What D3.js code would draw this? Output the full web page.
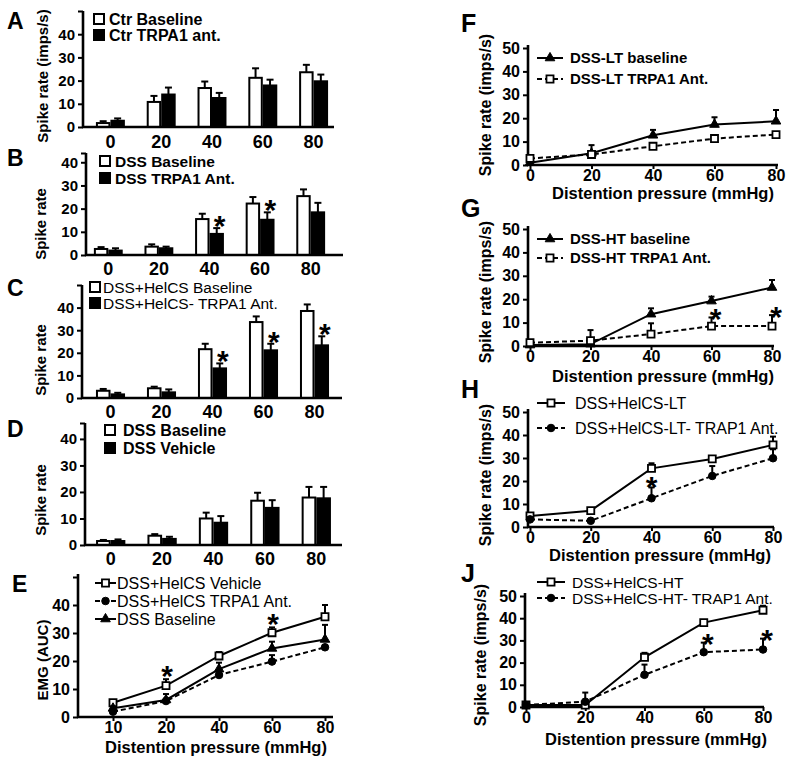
<!DOCTYPE html>
<html><head><meta charset="utf-8">
<script src="https://cdn.jsdelivr.net/npm/d3@7"></script>
<style>
body{margin:0;background:#fff}
svg{display:block}
text{font-family:"Liberation Sans",Arial,sans-serif;fill:#000}
</style>
</head><body>
<svg id="c" width="800" height="760"></svg>
<script>
// ---------------- DATA ----------------
const barCats = ["0", "20", "40", "60", "80"];

const aBaseline    = [1.7, 10.8, 16.8, 21.2, 23.6];
const aBaselineErr = [0.8, 2.6, 2.8, 4.1, 3.2];
const aAnt         = [2.7, 14.0, 12.5, 17.9, 19.7];
const aAntErr      = [1.0, 3.0, 2.2, 2.5, 2.9];

const bBaseline    = [2.6, 3.6, 15.5, 22.2, 25.4];
const bBaselineErr = [0.8, 1.0, 2.3, 2.8, 2.9];
const bAnt         = [1.9, 2.9, 9.1, 15.2, 18.4];
const bAntErr      = [1.0, 0.7, 2.5, 3.2, 4.1];
const bStars       = [false, false, true, true, false];

const cBaseline    = [3.2, 4.3, 21.6, 33.6, 38.5];
const cBaselineErr = [0.8, 0.7, 2.4, 2.5, 2.9];
const cAnt         = [1.6, 2.5, 13.1, 21.1, 23.3];
const cAntErr      = [0.7, 1.3, 2.2, 2.9, 4.0];
const cStars       = [false, false, true, true, true];

const dBaseline    = [1.5, 3.5, 10.0, 16.7, 17.9];
const dBaselineErr = [0.4, 0.6, 2.2, 3.0, 4.0];
const dVehicle     = [1.5, 2.3, 8.4, 14.0, 17.6];
const dVehicleErr  = [0.6, 0.8, 2.5, 2.9, 4.3];

const emgCats      = ["10", "20", "40", "60", "80"];
const eVehicle     = [5.1, 11.2, 21.8, 30.1, 35.8];
const eVehicleErr  = [0.8, 2.3, 1.4, 1.9, 4.2];
const eAnt         = [1.9, 5.7, 15.0, 19.8, 24.9];
const eAntErr      = [0.5, 0.8, 0.8, 2.3, 0.8];
const eBaseline    = [3.1, 6.1, 17.1, 24.5, 27.7];
const eBaselineErr = [0.6, 2.1, 2.3, 2.4, 5.2];
const eStars       = [false, true, false, true, false];

const pressures    = [0, 20, 40, 60, 80];
const yTicks50     = [0, 10, 20, 30, 40, 50];

const fBaseline    = [1.0, 5.0, 12.7, 17.3, 18.7];
const fBaselineErr = [0.5, 3.5, 2.3, 3.1, 4.8];
const fAnt         = [2.8, 4.5, 8.0, 11.3, 13.0];
const fAntErr      = [0, 0, 0, 0, 0];
const fStars       = [false, false, false, false, false];

const gBaseline    = [0.4, 0.8, 13.6, 19.2, 25.0];
const gBaselineErr = [0, 0, 2.5, 1.9, 3.2];
const gAnt         = [1.4, 2.3, 5.1, 8.5, 8.5];
const gAntErr      = [0, 4.5, 4.6, 3.7, 4.7];
const gStars       = [false, false, false, true, true];

const hLT          = [4.8, 7.1, 25.5, 29.6, 35.7];
const hLTErr       = [0.5, 0.8, 2.2, 0.8, 3.6];
const hAnt         = [3.3, 2.7, 12.5, 22.2, 29.9];
const hAntErr      = [0, 0, 4.7, 4.3, 3.9];
const hStars       = [false, false, true, false, false];

const jHT          = [0.9, 0.9, 22.4, 38.0, 43.6];
const jHTErr       = [0, 0, 2.0, 0.8, 2.0];
const jAnt         = [0.9, 2.4, 14.5, 24.7, 25.9];
const jAntErr      = [0, 4.1, 4.6, 4.3, 4.9];
const jStars       = [false, false, false, true, true];

// ---------------- DRAWING ----------------
const svg = d3.select("#c");
svg.append("rect").attr("width", 800).attr("height", 760).attr("fill", "#fff");
const FONT = '"Liberation Sans", Arial, sans-serif';

function styleAxis(g, fs) {
  g.select(".domain").remove();
  g.selectAll(".tick line").attr("stroke", "#000").attr("stroke-width", 2);
  g.selectAll(".tick text").attr("font-family", FONT).attr("font-weight", "bold")
    .attr("font-size", fs).attr("fill", "#000");
}

function star(g, x, cy) {
  g.append("text").attr("x", x).attr("y", cy + 17).attr("text-anchor", "middle")
    .attr("font-size", 30).attr("font-weight", "bold").text("*");
}

function letter(t, x, y, fs) {
  svg.append("text").attr("x", x).attr("y", y).attr("font-size", fs || 24)
    .attr("font-weight", "bold").text(t);
}

function yLabel(text, x, cy, fs) {
  svg.append("text").attr("transform", `translate(${x},${cy}) rotate(-90)`)
    .attr("text-anchor", "middle").attr("font-size", fs).attr("font-weight", "bold").text(text);
}

function drawBarPanel(c) {
  const g = svg.append("g");
  const y = d3.scaleLinear().domain([0, c.yMax]).range([c.yZero, c.yTop]);
  const x = d3.scaleBand().domain(barCats).range(c.bandRange).paddingInner(0.43).paddingOuter(0.215);
  const inner = d3.scaleBand().domain([0, 1]).range([0, x.bandwidth()]);

  const ya = g.append("g").attr("transform", `translate(${c.axisX},0)`)
    .call(d3.axisLeft(y).tickValues([0, 10, 20, 30, 40, c.yMax]).tickSize(5).tickPadding(3)
      .tickFormat(d => d <= 40 ? d : ""));
  styleAxis(ya, c.tickFs);
  g.append("line").attr("x1", c.axisX).attr("x2", c.axisX).attr("y1", c.yZero + 1).attr("y2", c.yTop)
    .attr("stroke", "#000").attr("stroke-width", 2.6);

  const xa = g.append("g").attr("transform", `translate(0,${c.yZero})`)
    .call(d3.axisBottom(x).tickSize(0).tickPadding(c.xPad));
  styleAxis(xa, c.xTickFs);

  c.series.forEach((s, si) => {
    barCats.forEach((cat, i) => {
      const bx = x(cat) + inner(si);
      const bw = inner.bandwidth();
      const cx = bx + bw / 2;
      g.append("line").attr("x1", cx).attr("x2", cx)
        .attr("y1", y(s.vals[i])).attr("y2", y(s.vals[i] + s.errs[i]))
        .attr("stroke", "#000").attr("stroke-width", 2);
      g.append("line").attr("x1", cx - 3.5).attr("x2", cx + 3.5)
        .attr("y1", y(s.vals[i] + s.errs[i])).attr("y2", y(s.vals[i] + s.errs[i]))
        .attr("stroke", "#000").attr("stroke-width", 2);
      g.append("rect").attr("x", bx + 1).attr("width", bw - 2)
        .attr("y", y(s.vals[i])).attr("height", c.yZero - y(s.vals[i]))
        .attr("fill", s.fill).attr("stroke", "#000").attr("stroke-width", 2);
      if (s.stars && s.stars[i]) {
        star(g, cx + 3, y(s.vals[i] + s.errs[i]) - 9);
      }
    });
  });

  g.append("line").attr("x1", c.axisX - 1).attr("x2", c.xEnd).attr("y1", c.yZero).attr("y2", c.yZero)
    .attr("stroke", "#000").attr("stroke-width", 2.6);

  c.series.forEach((s, si) => {
    const cy = c.legend.rows[si];
    const sz = c.legend.sq;
    g.append("rect").attr("x", c.legend.sqX).attr("y", cy - sz / 2).attr("width", sz).attr("height", sz)
      .attr("fill", s.fill).attr("stroke", "#000").attr("stroke-width", 2);
    g.append("text").attr("x", c.legend.textX).attr("y", cy + c.legend.fs * 0.36)
      .attr("font-size", c.legend.fs).attr("font-weight", c.legend.weight).text(s.name);
  });
}

function symbolPath(type, size) {
  return d3.symbol().type(type).size(size)();
}

function drawLinePanel(c) {
  const g = svg.append("g");
  const y = d3.scaleLinear().domain([0, 50]).range([c.yZero, c.y50]);
  const x = c.xScale;
  const ya = g.append("g").attr("transform", `translate(${c.axisX},0)`)
    .call(d3.axisLeft(y).tickValues(yTicks50).tickSize(5).tickPadding(3)
      .tickFormat(d => (c.hideTop && d === 50) ? "" : d));
  styleAxis(ya, c.tickFs);
  g.append("line").attr("x1", c.axisX).attr("x2", c.axisX).attr("y1", c.yZero + 1).attr("y2", c.y50 - 3)
    .attr("stroke", "#000").attr("stroke-width", 2.6);
  const xa = g.append("g").attr("transform", `translate(0,${c.yZero})`)
    .call(d3.axisBottom(x).tickValues(c.xVals).tickSize(4).tickPadding(c.xPad));
  styleAxis(xa, c.xTickFs);
  g.append("line").attr("x1", c.axisX - 1).attr("x2", c.xEnd).attr("y1", c.yZero).attr("y2", c.yZero)
    .attr("stroke", "#000").attr("stroke-width", 2.6);
  g.append("text").attr("x", c.xLabel.x).attr("y", c.xLabel.y).attr("text-anchor", "middle")
    .attr("font-size", c.xLabel.fs).attr("font-weight", "bold").text("Distention pressure (mmHg)");

  const line = d3.line().x((d, i) => x(c.xVals[i])).y(d => y(d));
  c.series.forEach(s => {
    g.append("path").attr("d", line(s.vals)).attr("fill", "none").attr("stroke", "#000")
      .attr("stroke-width", 2).attr("stroke-dasharray", s.dash ? "5,3" : null);
  });
  c.series.forEach(s => {
    s.vals.forEach((v, i) => {
      const cx = x(c.xVals[i]);
      if (s.errs[i] > 0) {
        g.append("line").attr("x1", cx).attr("x2", cx).attr("y1", y(v)).attr("y2", y(v + s.errs[i]))
          .attr("stroke", "#000").attr("stroke-width", 2);
        g.append("line").attr("x1", cx - 3).attr("x2", cx + 3)
          .attr("y1", y(v + s.errs[i])).attr("y2", y(v + s.errs[i]))
          .attr("stroke", "#000").attr("stroke-width", 2);
      }
    });
  });
  c.series.forEach(s => {
    s.vals.forEach((v, i) => {
      g.append("path").attr("d", symbolPath(s.sym, s.size))
        .attr("transform", `translate(${x(c.xVals[i])},${y(v)})`)
        .attr("fill", s.fill).attr("stroke", "#000").attr("stroke-width", s.fill === "#fff" ? 1.8 : 1);
    });
  });
  c.stars.forEach((on, i) => {
    if (!on) return;
    const top = d3.max(c.starSeries.map(s => s.vals[i] + s.errs[i]));
    star(g, x(c.xVals[i]) + c.starDx, y(top) - c.starGap);
  });
  c.series.forEach((s, si) => {
    const cy = c.legend.rows[si];
    g.append("line").attr("x1", c.legend.x1).attr("x2", c.legend.x2).attr("y1", cy).attr("y2", cy)
      .attr("stroke", "#000").attr("stroke-width", 2).attr("stroke-dasharray", s.dash ? "5,3" : null);
    g.append("path").attr("d", symbolPath(s.sym, s.size))
      .attr("transform", `translate(${(c.legend.x1 + c.legend.x2) / 2},${cy})`)
      .attr("fill", s.fill).attr("stroke", "#000").attr("stroke-width", s.fill === "#fff" ? 1.8 : 1);
    g.append("text").attr("x", c.legend.textX).attr("y", cy + c.legend.fs * 0.36)
      .attr("font-size", c.legend.fs).attr("font-weight", c.legend.weight).text(s.name);
  });
}

// ---------- Left column: bar panels ----------
letter("A", 7, 29, 23);
drawBarPanel({
  axisX: 83, yZero: 127, yTop: 11, yMax: 50, bandRange: [85, 339], xEnd: 334,
  tickFs: 15, xTickFs: 18, xPad: 8,
  series: [
    {name: "Ctr Baseline", vals: aBaseline, errs: aBaselineErr, fill: "#fff"},
    {name: "Ctr TRPA1 ant.", vals: aAnt, errs: aAntErr, fill: "#000"}
  ],
  legend: {sqX: 94, rows: [19, 35], sq: 10, textX: 109, fs: 16, weight: "bold"}
});
yLabel("Spike rate (imps/s)", 48, 76, 15);

letter("B", 7, 166, 23);
drawBarPanel({
  axisX: 86, yZero: 255, yTop: 153, yMax: 44, bandRange: [83, 336], xEnd: 343,
  tickFs: 15, xTickFs: 18, xPad: 7,
  series: [
    {name: "DSS Baseline", vals: bBaseline, errs: bBaselineErr, fill: "#fff"},
    {name: "DSS TRPA1 Ant.", vals: bAnt, errs: bAntErr, fill: "#000", stars: bStars}
  ],
  legend: {sqX: 100, rows: [161, 178], sq: 10, textX: 115, fs: 15.5, weight: "bold"}
});
yLabel("Spike rate", 46, 224, 15);

letter("C", 7, 296, 23);
drawBarPanel({
  axisX: 82, yZero: 398, yTop: 285, yMax: 50, bandRange: [85, 340], xEnd: 342,
  tickFs: 15, xTickFs: 18, xPad: 7,
  series: [
    {name: "DSS+HelCS Baseline", vals: cBaseline, errs: cBaselineErr, fill: "#fff"},
    {name: "DSS+HelCS- TRPA1 Ant.", vals: cAnt, errs: cAntErr, fill: "#000", stars: cStars}
  ],
  legend: {sqX: 90, rows: [287, 303], sq: 10, textX: 103, fs: 15.5, weight: "normal"}
});
yLabel("Spike rate", 46, 360, 15);

letter("D", 7, 437, 23);
drawBarPanel({
  axisX: 85, yZero: 545, yTop: 423, yMax: 46, bandRange: [85, 342], xEnd: 342,
  tickFs: 15, xTickFs: 18, xPad: 7,
  series: [
    {name: "DSS Baseline", vals: dBaseline, errs: dBaselineErr, fill: "#fff"},
    {name: "DSS Vehicle", vals: dVehicle, errs: dVehicleErr, fill: "#000"}
  ],
  legend: {sqX: 105, rows: [430, 448], sq: 10, textX: 123, fs: 16, weight: "bold"}
});
yLabel("Spike rate", 46, 500, 15);

// ---------- Panel E ----------
letter("E", 12, 592, 23);
drawLinePanel({
  axisX: 78, yZero: 717, y50: 577, xEnd: 333, hideTop: true,
  xScale: d3.scalePoint().domain(emgCats).range([113, 325]), xVals: emgCats,
  tickFs: 16, xTickFs: 16, xPad: 1,
  xLabel: {x: 216, y: 753, fs: 16.5},
  series: [
    {name: "DSS+HelCS Vehicle", vals: eVehicle, errs: eVehicleErr, sym: d3.symbolSquare, size: 50, fill: "#fff", dash: false},
    {name: "DSS+HelCS TRPA1 Ant.", vals: eAnt, errs: eAntErr, sym: d3.symbolCircle, size: 45, fill: "#000", dash: true},
    {name: "DSS Baseline", vals: eBaseline, errs: eBaselineErr, sym: d3.symbolTriangle, size: 40, fill: "#000", dash: false}
  ],
  stars: eStars, starSeries: [{vals: eVehicle, errs: eVehicleErr}], starDx: 1, starGap: 10,
  legend: {x1: 95, x2: 116, rows: [583, 601, 619], textX: 117, fs: 16, weight: "normal"}
});
yLabel("EMG (AUC)", 48, 660, 15);

// ---------- Right column: line panels ----------
const lineFs = 16;
letter("F", 461, 32, 25);
drawLinePanel({
  axisX: 528, yZero: 165, y50: 48, xEnd: 778,
  xScale: d3.scaleLinear().domain([0, 80]).range([530, 776]), xVals: pressures,
  tickFs: lineFs, xTickFs: lineFs, xPad: 1,
  xLabel: {x: 663, y: 199, fs: 16.5},
  series: [
    {name: "DSS-LT baseline", vals: fBaseline, errs: fBaselineErr, sym: d3.symbolTriangle, size: 40, fill: "#000", dash: false},
    {name: "DSS-LT TRPA1 Ant.", vals: fAnt, errs: fAntErr, sym: d3.symbolSquare, size: 50, fill: "#fff", dash: true}
  ],
  stars: fStars, starSeries: [], starDx: 0, starGap: 8,
  legend: {x1: 537, x2: 563, rows: [58, 79], textX: 570, fs: 15, weight: "bold"}
});
yLabel("Spike rate (imps/s)", 491, 105, 16);

letter("G", 461, 217, 25);
drawLinePanel({
  axisX: 528, yZero: 346, y50: 229, xEnd: 774,
  xScale: d3.scaleLinear().domain([0, 80]).range([530, 772]), xVals: pressures,
  tickFs: lineFs, xTickFs: lineFs, xPad: 1,
  xLabel: {x: 663, y: 382, fs: 16.5},
  series: [
    {name: "DSS-HT baseline", vals: gBaseline, errs: gBaselineErr, sym: d3.symbolTriangle, size: 40, fill: "#000", dash: false},
    {name: "DSS-HT TRPA1 Ant.", vals: gAnt, errs: gAntErr, sym: d3.symbolSquare, size: 50, fill: "#fff", dash: true}
  ],
  stars: gStars, starSeries: [{vals: gAnt, errs: gAntErr}], starDx: 4, starGap: 5,
  legend: {x1: 537, x2: 563, rows: [239, 258], textX: 570, fs: 15, weight: "bold"}
});
yLabel("Spike rate (imps/s)", 491, 292, 16);

letter("H", 461, 398, 25);
drawLinePanel({
  axisX: 528, yZero: 527, y50: 412, xEnd: 774,
  xScale: d3.scaleLinear().domain([0, 80]).range([530, 773]), xVals: pressures,
  tickFs: lineFs, xTickFs: lineFs, xPad: 1,
  xLabel: {x: 660, y: 561, fs: 16.5},
  series: [
    {name: "DSS+HelCS-LT", vals: hLT, errs: hLTErr, sym: d3.symbolSquare, size: 50, fill: "#fff", dash: false},
    {name: "DSS+HelCS-LT- TRAP1 Ant.", vals: hAnt, errs: hAntErr, sym: d3.symbolCircle, size: 45, fill: "#000", dash: true}
  ],
  stars: hStars, starSeries: [{vals: hAnt, errs: hAntErr}], starDx: 0, starGap: 7,
  legend: {x1: 537, x2: 565, rows: [403, 428], textX: 575, fs: 16, weight: "normal"}
});
yLabel("Spike rate (imps/s)", 491, 475, 16);

letter("J", 461, 582, 25);
drawLinePanel({
  axisX: 525, yZero: 707, y50: 596, xEnd: 764,
  xScale: d3.scaleLinear().domain([0, 80]).range([526, 763]), xVals: pressures,
  tickFs: lineFs, xTickFs: lineFs, xPad: 1,
  xLabel: {x: 656, y: 745, fs: 16.5},
  series: [
    {name: "DSS+HelCS-HT", vals: jHT, errs: jHTErr, sym: d3.symbolSquare, size: 50, fill: "#fff", dash: false},
    {name: "DSS+HelCS-HT- TRAP1 Ant.", vals: jAnt, errs: jAntErr, sym: d3.symbolCircle, size: 45, fill: "#000", dash: true}
  ],
  stars: jStars, starSeries: [{vals: jAnt, errs: jAntErr}], starDx: 4, starGap: 6,
  legend: {x1: 537, x2: 565, rows: [582, 598], textX: 572, fs: 15.5, weight: "normal"}
});
yLabel("Spike rate (imps/s)", 486, 655, 16);
</script>
</body></html>
